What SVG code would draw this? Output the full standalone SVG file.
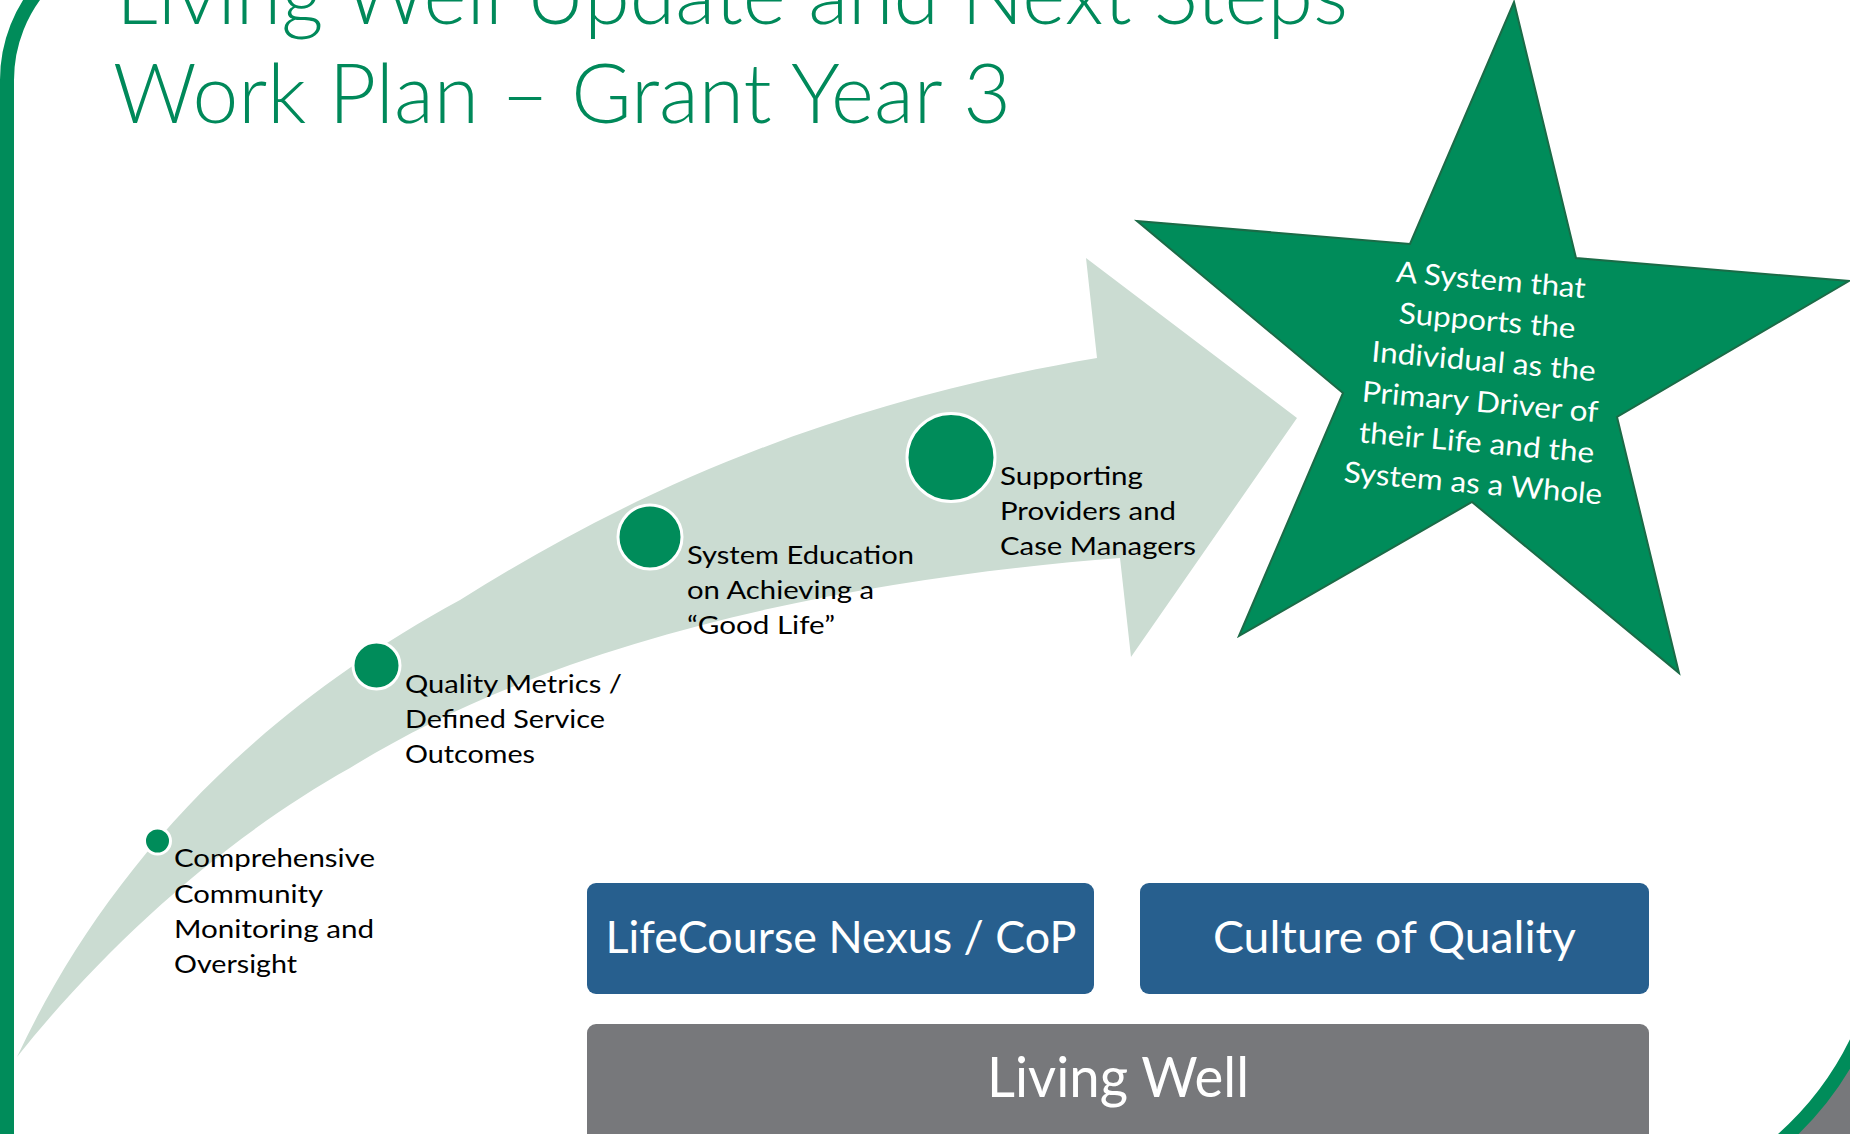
<svg xmlns="http://www.w3.org/2000/svg" width="1850" height="1134" viewBox="0 0 1850 1134">
  <style>
    .title { font-family: Lato, "Open Sans", "Liberation Sans", sans-serif; font-weight: 300; font-size: 82px; fill: #00895A; }
    .lbl { font-family: Lato, "Open Sans", "Liberation Sans", sans-serif; font-size: 25px; fill: #000000; }
    .star-txt { font-family: Lato, "Open Sans", "Liberation Sans", sans-serif; font-size: 29px; fill: #FFFFFF; text-anchor: middle; }
    .box-txt { font-family: Lato, "Open Sans", "Liberation Sans", sans-serif; fill: #FFFFFF; text-anchor: middle; }
    .dot { fill: #008C5A; stroke: #FFFFFF; stroke-width: 3; }
    .blue { fill: #275F8E; }
    .grey { fill: #77787B; }
  </style>

  <rect x="0" y="0" width="1850" height="1134" fill="#FFFFFF"/>

  <!-- frame decorations -->
  <g id="frame">
    <path d="M7,1140 V80 A143,143 0 0 1 150,-63 H1900" fill="none" stroke="#008C5A" stroke-width="14"/>
    <path d="M1870,1010 A319,319 0 0 1 1770,1150 L1870,1150 Z" fill="#77787B"/>
    <path d="M1870,1010 A319,319 0 0 1 1770,1150" fill="none" stroke="#008C5A" stroke-width="14"/>
  </g>

  <g id="title">
    <text class="title" x="116" y="24" textLength="1232" lengthAdjust="spacingAndGlyphs">Living Well Update and Next Steps</text>
    <text class="title" x="113" y="123" textLength="898" lengthAdjust="spacingAndGlyphs">Work Plan – Grant Year 3</text>
  </g>

  <g id="connectors">
    <path id="progress-arrow" fill="#CBDCD2"
      d="M17,1057 C100,880 240,720 460,600 C650,480 850,400 1097,358 L1086,258 L1297,418 L1131,657 L1120,558 C900,575 580,625 350,768 C230,835 110,940 17,1057 Z"/>
  </g>

  <g id="step-1">
    <circle class="dot" cx="157.5" cy="841" r="13"/>
    <text class="lbl" x="174" y="867" textLength="201" lengthAdjust="spacingAndGlyphs">Comprehensive</text>
    <text class="lbl" x="174" y="903" textLength="149" lengthAdjust="spacingAndGlyphs">Community</text>
    <text class="lbl" x="174" y="938" textLength="200" lengthAdjust="spacingAndGlyphs">Monitoring and</text>
    <text class="lbl" x="174" y="973" textLength="123" lengthAdjust="spacingAndGlyphs">Oversight</text>
  </g>

  <g id="step-2">
    <circle class="dot" cx="376.5" cy="665.5" r="23.5"/>
    <text class="lbl" x="405" y="693" textLength="217" lengthAdjust="spacingAndGlyphs">Quality Metrics /</text>
    <text class="lbl" x="405" y="728" textLength="200" lengthAdjust="spacingAndGlyphs">Defined Service</text>
    <text class="lbl" x="405" y="763" textLength="130" lengthAdjust="spacingAndGlyphs">Outcomes</text>
  </g>

  <g id="step-3">
    <circle class="dot" cx="650" cy="537" r="32"/>
    <text class="lbl" x="687" y="564" textLength="227" lengthAdjust="spacingAndGlyphs">System Education</text>
    <text class="lbl" x="687" y="599" textLength="187" lengthAdjust="spacingAndGlyphs">on Achieving a</text>
    <text class="lbl" x="687" y="634" textLength="148" lengthAdjust="spacingAndGlyphs">“Good Life”</text>
  </g>

  <g id="step-4">
    <circle class="dot" cx="951" cy="457.5" r="44"/>
    <text class="lbl" x="1000" y="485" textLength="143" lengthAdjust="spacingAndGlyphs">Supporting</text>
    <text class="lbl" x="1000" y="520" textLength="176" lengthAdjust="spacingAndGlyphs">Providers and</text>
    <text class="lbl" x="1000" y="555" textLength="196" lengthAdjust="spacingAndGlyphs">Case Managers</text>
  </g>

  <g id="star">
    <polygon points="1514,2 1576,258 1849,281 1617,417 1679,673 1472,502 1239,636 1343,393 1137,221 1410,244"
      fill="#008C5A" stroke="#1B6B47" stroke-width="2" stroke-linejoin="miter"/>
    <g transform="translate(1490,290) rotate(5)">
      <text class="star-txt" x="0" y="0" textLength="190" lengthAdjust="spacingAndGlyphs">A System that</text>
      <text class="star-txt" x="0" y="40.8" textLength="177" lengthAdjust="spacingAndGlyphs">Supports the</text>
      <text class="star-txt" x="0" y="81.6" textLength="225" lengthAdjust="spacingAndGlyphs">Individual as the</text>
      <text class="star-txt" x="0" y="122.4" textLength="237" lengthAdjust="spacingAndGlyphs">Primary Driver of</text>
      <text class="star-txt" x="0" y="163.2" textLength="236" lengthAdjust="spacingAndGlyphs">their Life and the</text>
      <text class="star-txt" x="0" y="204" textLength="259" lengthAdjust="spacingAndGlyphs">System as a Whole</text>
    </g>
  </g>

  <g id="lifecourse">
    <rect class="blue" x="587" y="883" width="507" height="111" rx="9"/>
    <text class="box-txt" x="841" y="953" font-size="44" textLength="471" lengthAdjust="spacingAndGlyphs">LifeCourse Nexus / CoP</text>
  </g>

  <g id="culture">
    <rect class="blue" x="1140" y="883" width="509" height="111" rx="9"/>
    <text class="box-txt" x="1394.5" y="953" font-size="44" textLength="363" lengthAdjust="spacingAndGlyphs">Culture of Quality</text>
  </g>

  <g id="living-well">
    <rect class="grey" x="587" y="1024" width="1062" height="140" rx="9"/>
    <text class="box-txt" x="1118" y="1097" font-size="56" textLength="262" lengthAdjust="spacingAndGlyphs">Living Well</text>
  </g>
</svg>
